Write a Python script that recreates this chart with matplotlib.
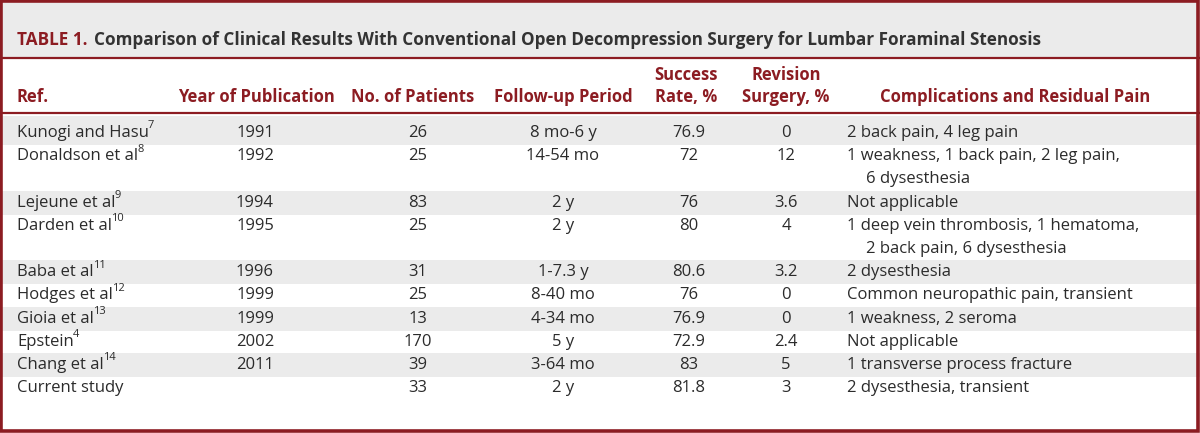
import numpy as np
import matplotlib
matplotlib.use('Agg')
import matplotlib.pyplot as plt
from matplotlib.patches import Rectangle

# table content
refs = ['Kunogi and Hasu', 'Donaldson et al', 'Lejeune et al', 'Darden et al', 'Baba et al',
        'Hodges et al', 'Gioia et al', 'Epstein', 'Chang et al', 'Current study']
ref_sup = ['7', '8', '9', '10', '11', '12', '13', '4', '14', '']
years = ['1991', '1992', '1994', '1995', '1996', '1999', '1999', '2002', '2011', '']
patients = [26, 25, 83, 25, 31, 25, 13, 170, 39, 33]
follow_up = ['8 mo-6 y', '14-54 mo', '2 y', '2 y', '1-7.3 y', '8-40 mo', '4-34 mo', '5 y', '3-64 mo', '2 y']
success = ['76.9', '72', '76', '80', '80.6', '76', '76.9', '72.9', '83', '81.8']
revision = ['0', '12', '3.6', '4', '3.2', '0', '0', '2.4', '5', '3']
complications = [
    ['2 back pain, 4 leg pain'],
    ['1 weakness, 1 back pain, 2 leg pain,', '6 dysesthesia'],
    ['Not applicable'],
    ['1 deep vein thrombosis, 1 hematoma,', '2 back pain, 6 dysesthesia'],
    ['2 dysesthesia'],
    ['Common neuropathic pain, transient'],
    ['1 weakness, 2 seroma'],
    ['Not applicable'],
    ['1 transverse process fracture'],
    ['2 dysesthesia, transient'],
]
title_label = 'TABLE 1.'
title_text = 'Comparison of Clinical Results With Conventional Open Decompression Surgery for Lumbar Foraminal Stenosis'
headers = [('Ref.', 17, 'left'), ('Year of Publication', 256, 'center'), ('No. of Patients', 413, 'center'),
           ('Follow-up Period', 563, 'center'), ('Success\nRate, %', 686, 'center'),
           ('Revision\nSurgery, %', 786, 'center'), ('Complications and Residual Pain', 1015, 'center')]

RED = '#8c1c22'
GRAY_BG = '#ebebeb'
TXT = '#2b2b2b'
W, H = 1200, 433

plt.rcParams['font.family'] = ['Open Sans', 'DejaVu Sans']

fig = plt.figure(figsize=(W / 100, H / 100), dpi=100)
ax = fig.add_axes([0, 0, 1, 1])
ax.set_xlim(0, W)
ax.set_ylim(H, 0)
ax.axis('off')

# title band and rules
ax.add_patch(Rectangle((0, 0), W, 57, color=GRAY_BG, lw=0))
ax.plot([0, W], [57.5, 57.5], color=RED, lw=1.6)
ax.plot([0, W], [113, 113], color=RED, lw=1.6)

# rows
fs = 12
step = 23.2
y = 133
for i in range(len(refs)):
    nlines = len(complications[i])
    top = 116 if i == 0 else y - 12
    bottom = y + (nlines - 1) * step + 12
    if i % 2 == 0:
        ax.add_patch(Rectangle((0, top), W, bottom - top, color=GRAY_BG, lw=0))
    t = ax.text(17, y, refs[i], fontsize=fs, color=TXT, va='center', ha='left')
    t._sup = ref_sup[i]
    t._y = y
    ax.text(255, y, years[i], fontsize=fs, color=TXT, va='center', ha='center')
    ax.text(418, y, str(patients[i]), fontsize=fs, color=TXT, va='center', ha='center')
    ax.text(563, y, follow_up[i], fontsize=fs, color=TXT, va='center', ha='center')
    ax.text(689, y, success[i], fontsize=fs, color=TXT, va='center', ha='center')
    ax.text(786, y, revision[i], fontsize=fs, color=TXT, va='center', ha='center')
    for k, line in enumerate(complications[i]):
        ax.text(847 if k == 0 else 866, y + k * step, line, fontsize=fs, color=TXT, va='center', ha='left')
    y += nlines * step

# superscripts after the reference names
fig.canvas.draw()
r = fig.canvas.get_renderer()
inv = ax.transData.inverted()
for t in list(ax.texts):
    if getattr(t, '_sup', ''):
        bb = t.get_window_extent(r)
        x1 = inv.transform((bb.x1, bb.y1))[0]
        ax.text(x1 - 1, t._y - 7, t._sup, fontsize=8, color=TXT, va='center', ha='left')

# header
hfs = 12
for txt, x, ha in headers:
    lines = txt.split('\n')
    if len(lines) == 1:
        ax.text(x, 97, lines[0], fontsize=hfs, color=RED, fontweight='bold', va='center', ha=ha)
    else:
        ax.text(x, 75, lines[0], fontsize=hfs, color=RED, fontweight='bold', va='center', ha=ha)
        ax.text(x, 97, lines[1], fontsize=hfs, color=RED, fontweight='bold', va='center', ha=ha)

# title
tfs = 12.3
tl = ax.text(17, 40, title_label, fontsize=tfs, color=RED, fontweight='bold', va='center', ha='left')
fig.canvas.draw()
bb = tl.get_window_extent(r)
x1 = inv.transform((bb.x1, bb.y1))[0]
ax.text(x1 + 6, 40, title_text, fontsize=tfs, color='#333333', fontweight='bold', va='center', ha='left')

# outer border
ax.add_patch(Rectangle((1, 1.2), W - 3, H - 3, fill=False, edgecolor=RED, lw=2.6))

fig.savefig('out.png', dpi=100)
